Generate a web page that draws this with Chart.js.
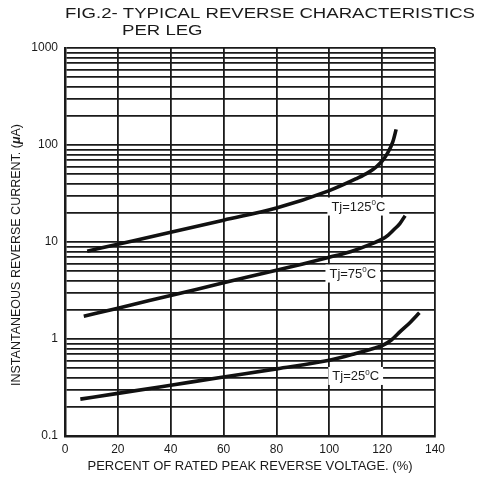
<!DOCTYPE html>
<html>
<head>
<meta charset="utf-8">
<script src="https://cdn.jsdelivr.net/npm/chart.js@4.4.1/dist/chart.umd.min.js"></script>
<style>
  html, body { margin: 0; padding: 0; background: #fff; }
</style>
</head>
<body>
<canvas id="myChart" width="480" height="477"></canvas>
<script>
// data (x = % of rated peak reverse voltage, y = current in uA)
var volt25 = [5.8, 20, 40, 60, 80, 100, 110, 117, 120, 123.5, 126.8, 130.6, 134.1];
var curr25 = [0.24, 0.275, 0.334, 0.406, 0.492, 0.603, 0.708, 0.804, 0.855, 0.977, 1.19, 1.48, 1.86];
var volt75 = [7.1, 20, 40, 60, 80, 90, 100, 108, 116, 120, 122.3, 124.3, 126.7, 128.7];
var curr75 = [1.72, 2.08, 2.81, 3.79, 5.12, 5.94, 6.95, 7.94, 9.55, 10.7, 11.8, 13.3, 15.5, 18.7];
var volt125 = [8.4, 20, 40, 60, 80, 100, 110, 115, 118, 120, 122, 124, 125.3];
var curr125 = [8.04, 9.48, 12.6, 16.8, 22.4, 33.9, 44.7, 52.5, 60.3, 68.4, 82.2, 107, 145];

var xTicks = [0, 20, 40, 60, 80, 100, 120, 140];
var decades = [0.1, 1, 10, 100, 1000];
var decadeLabels = ['0.1', '1', '10', '100', '1000'];

// curve labels, anchored in data coordinates
var curveLabels = [
    { x: 111, y: 23.2, text: 'Tj=125', unit: 'C' },
    { x: 108.9, y: 4.73, text: 'Tj=75', unit: 'C' },
    { x: 110, y: 0.416, text: 'Tj=25', unit: 'C' }
];

// every log gridline 1..9 in each decade
var yTicks = [];
decades.forEach(function (d, i) {
    if (i === decades.length - 1) { yTicks.push(d); return; }
    for (var m = 1; m < 10; m++) yTicks.push(m === 1 ? d : m * d);
});

function pts(xs, ys) {
    return xs.map(function (v, i) { return { x: v, y: ys[i] }; });
}

var FONT = '"Liberation Sans", Arial, sans-serif';
var INK = '#1a1a1a';

function curve(data) {
    return {
        data: data,
        borderColor: '#111',
        borderWidth: 3.6,
        pointRadius: 0,
        fill: false,
        cubicInterpolationMode: 'monotone',
        borderCapStyle: 'butt'
    };
}

var textPlugin = {
    id: 'texts',
    afterDraw: function (chart) {
        var ctx = chart.ctx;
        var a = chart.chartArea;
        var xs = chart.scales.x, ys = chart.scales.y;
        ctx.save();
        ctx.fillStyle = INK;
        ctx.textBaseline = 'middle';
        ctx.textAlign = 'left';

        // title, stretched wide like the datasheet print
        ctx.font = '15px ' + FONT;
        var t1 = 'FIG.2- TYPICAL REVERSE CHARACTERISTICS';
        var sx = 410 / ctx.measureText(t1).width;
        ctx.save();
        ctx.translate(65, 14);
        ctx.scale(sx, 1);
        ctx.fillText(t1, 0, 0);
        ctx.restore();
        ctx.save();
        ctx.translate(122, 31);
        ctx.scale(sx, 1);
        ctx.fillText('PER LEG', 0, 0);
        ctx.restore();

        // x axis title
        ctx.font = '13px ' + FONT;
        ctx.textAlign = 'center';
        ctx.fillText('PERCENT OF RATED PEAK REVERSE VOLTAGE. (%)', (a.left + a.right) / 2, 466.5);

        // y axis title with bold italic mu
        ctx.save();
        ctx.translate(16.5, 255);
        ctx.rotate(-Math.PI / 2);
        ctx.textAlign = 'left';
        var p1 = 'INSTANTANEOUS REVERSE CURRENT. (', p2 = '\u03bc', p3 = 'A)';
        ctx.font = '12.5px ' + FONT;
        var w1 = ctx.measureText(p1).width, w3 = ctx.measureText(p3).width;
        ctx.font = 'italic bold 12.5px ' + FONT;
        var w2 = ctx.measureText(p2).width;
        var x0 = -(w1 + w2 + w3) / 2;
        ctx.font = '12.5px ' + FONT;
        ctx.fillText(p1, x0, 0);
        ctx.font = 'italic bold 12.5px ' + FONT;
        ctx.fillText(p2, x0 + w1, 0);
        ctx.font = '12.5px ' + FONT;
        ctx.fillText(p3, x0 + w1 + w2, 0);
        ctx.restore();

        // curve labels in white boxes
        curveLabels.forEach(function (l) {
            var cx = xs.getPixelForValue(l.x);
            var cy = ys.getPixelForValue(l.y);
            ctx.font = '13px ' + FONT;
            var wa = ctx.measureText(l.text).width;
            var wc = ctx.measureText(l.unit).width;
            ctx.font = '8px ' + FONT;
            var wd = ctx.measureText('0').width;
            var w = wa + wd + wc;
            ctx.fillStyle = '#fff';
            ctx.fillRect(cx - w / 2 - 4, cy - 9, w + 8, 18);
            ctx.fillStyle = INK;
            ctx.textAlign = 'left';
            var x = cx - w / 2;
            ctx.font = '13px ' + FONT;
            ctx.fillText(l.text, x, cy + 0.5);
            ctx.font = '8px ' + FONT;
            ctx.fillText('0', x + wa, cy - 3.5);
            ctx.font = '13px ' + FONT;
            ctx.fillText(l.unit, x + wa + wd, cy + 0.5);
        });
        ctx.restore();
    }
};

var ctx = document.getElementById('myChart').getContext('2d');
var myChart = new Chart(ctx, {
    type: 'line',
    data: {
        datasets: [
            curve(pts(volt125, curr125)),
            curve(pts(volt75, curr75)),
            curve(pts(volt25, curr25))
        ]
    },
    options: {
        responsive: false,
        animation: false,
        layout: { padding: { top: 48, right: 45, left: 0, bottom: 0 } },
        plugins: {
            legend: { display: false },
            tooltip: { enabled: false }
        },
        scales: {
            x: {
                type: 'linear',
                min: 0,
                max: 140,
                afterFit: function (s) { s.height = 41; },
                afterBuildTicks: function (s) {
                    s.ticks = xTicks.map(function (v) { return { value: v }; });
                },
                ticks: {
                    color: INK,
                    font: { family: FONT, size: 12 },
                    padding: 6,
                    maxRotation: 0,
                    autoSkip: false
                },
                grid: { color: '#1a1a1a', lineWidth: 1.8, drawTicks: false },
                border: { color: '#1a1a1a', width: 2.5 }
            },
            y: {
                type: 'logarithmic',
                min: 0.1,
                max: 1000,
                afterFit: function (s) { s.width = 65; },
                afterBuildTicks: function (s) {
                    s.ticks = yTicks.map(function (v) { return { value: v }; });
                },
                ticks: {
                    autoSkip: false,
                    color: INK,
                    font: { family: FONT, size: 12 },
                    padding: 7,
                    callback: function (v) {
                        var i = decades.indexOf(v);
                        return i >= 0 ? decadeLabels[i] : '';
                    }
                },
                grid: { color: '#1a1a1a', lineWidth: 1.8, drawTicks: false },
                border: { color: '#1a1a1a', width: 2.5 }
            }
        }
    },
    plugins: [textPlugin]
});
</script>
</body>
</html>
